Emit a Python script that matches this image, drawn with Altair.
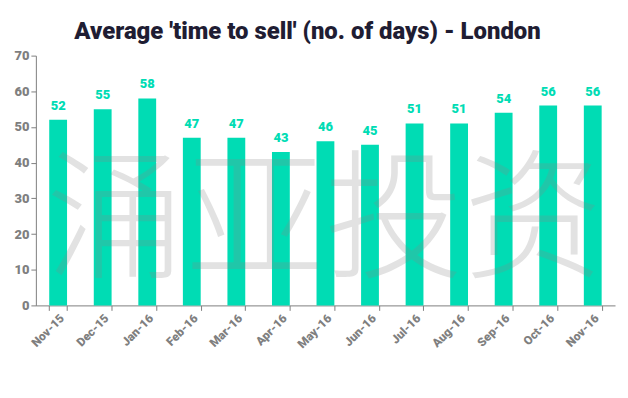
import altair as alt
import pandas as pd

months = ["Nov-15", "Dec-15", "Jan-16", "Feb-16", "Mar-16", "Apr-16", "May-16",
          "Jun-16", "Jul-16", "Aug-16", "Sep-16", "Oct-16", "Nov-16"]
days = [52, 55, 58, 47, 47, 43, 46, 45, 51, 51, 54, 56, 56]
watermark = ["涌亚投资"]

df = pd.DataFrame({"month": months, "days": days})
wm = pd.DataFrame({"t": watermark})

TEAL = "#00DCB4"
GRAY = "#7F7F7F"

x = alt.X("month:N", sort=months, title=None,
          scale=alt.Scale(paddingInner=0.6, paddingOuter=0.3),
          axis=alt.Axis(labelAngle=-45, labelColor=GRAY, labelFont="Roboto",
                        labelFontWeight=900, labelFontSize=12, domainColor=GRAY,
                        tickColor=GRAY, tickBand="extent", tickSize=5,
                        labelPadding=2))
y = alt.Y("days:Q", title=None,
          scale=alt.Scale(domain=[0, 70]),
          axis=alt.Axis(values=[0, 10, 20, 30, 40, 50, 60, 70], grid=False,
                        labelColor=GRAY, labelFont="Roboto", labelFontWeight=900,
                        labelFontSize=13, domainColor=GRAY, tickColor=GRAY, tickSize=5))

bars = alt.Chart(df).mark_bar(color=TEAL).encode(x=x, y=y)
labels = alt.Chart(df).mark_text(color=TEAL, font="Roboto", fontWeight=900,
                                 fontSize=13, dy=-14).encode(x=x, y=y, text="days:Q")
mark_wm = alt.Chart(wm).mark_text(font="Noto Sans CJK SC", fontSize=140,
                                  color="#888888", opacity=0.24,
                                  fontWeight=300).encode(
    text="t:N", x=alt.value(290), y=alt.value(170))

chart = alt.layer(bars, labels, mark_wm).properties(
    width=582, height=251, background="white",
    padding={"top": 11, "left": 5, "right": 5, "bottom": 5},
    title=alt.TitleParams("Average 'time to sell' (no. of days) - London",
                          font="Roboto", fontWeight=900, fontSize=24,
                          color="#1F1D33", offset=6, dx=-18),
).configure_view(stroke=None)

chart.save("out.html", embed_options={"renderer": "svg", "actions": False})
